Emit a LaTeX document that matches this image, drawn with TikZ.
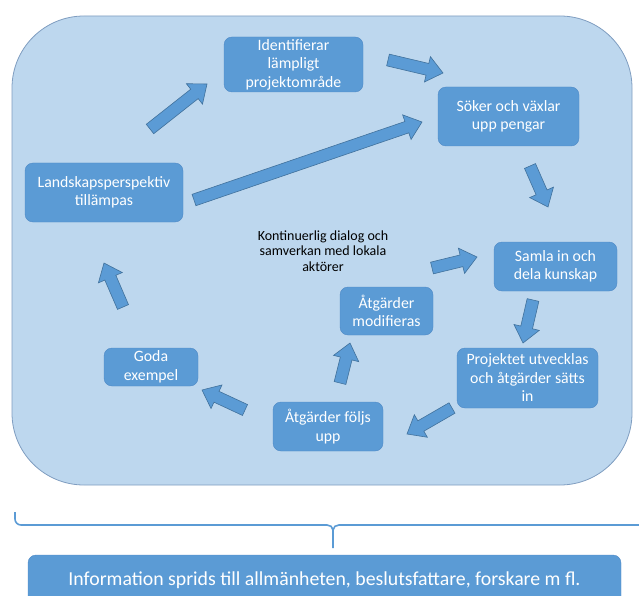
\documentclass[tikz,border=0pt]{standalone}
\usepackage{fontspec}
\setmainfont{Carlito}
\usepackage{tikz}
\usetikzlibrary{calc, positioning}
\definecolor{panelfill}{HTML}{BDD7EE}
\definecolor{paneledge}{HTML}{7F9DC0}
\definecolor{boxfill}{HTML}{5B9BD5}
\definecolor{boxedge}{HTML}{4E89C6}
\definecolor{arrowedge}{HTML}{41719C}
\tikzset{
    stagebox/.style={rectangle, rounded corners=8pt, draw=boxedge, fill=boxfill, text=white, align=center, inner sep=0pt, font=\fontsize{15.8}{18.5}\selectfont},
    flowarrow/.style={fill=boxfill, draw=arrowedge, line width=0.6pt, line join=miter},
    panel/.style={draw=paneledge, fill=panelfill, line width=0.8pt, rounded corners=72pt},
    bracketline/.style={draw=boxfill, line width=1.6pt},
}
% fat block arrow from #1 to #2
\newcommand{\fatarrow}[2]{%
    \coordinate (fah) at ($(#2)!16pt!(#1)$);
    \filldraw[flowarrow] ($(#1)!6pt!90:(#2)$) -- ($(fah)!6pt!90:(#2)$) -- ($(fah)!13pt!90:(#2)$) -- (#2)
        -- ($(fah)!13pt!-90:(#2)$) -- ($(fah)!6pt!-90:(#2)$) -- ($(#1)!6pt!-90:(#2)$) -- cycle;
}

\begin{document}
\begin{tikzpicture}[x=1pt, y=-1pt]
    \useasboundingbox (0,0) rectangle (639,596);

    % the big panel
    \draw[panel] (12,16) rectangle (632,485);

    % stages
    \node[stagebox, minimum width=139pt, minimum height=55pt] (ident) at (293.5,64.5) {Identifierar\\lämpligt\\projektområde};
    \node[stagebox, minimum width=141pt, minimum height=59pt] (soker) at (508.5,116.5) {Söker och växlar\\upp pengar};
    \node[stagebox, minimum width=158pt, minimum height=59pt] (land) at (104,192.5) {Landskapsperspektiv\\tillämpas};
    \node[stagebox, minimum width=123pt, minimum height=49pt] (samla) at (555.5,266.5) {Samla in och\\dela kunskap};
    \node[stagebox, minimum width=93pt, minimum height=48pt] (modif) at (386.5,311) {Åtgärder\\modifieras};
    \node[stagebox, minimum width=94pt, minimum height=38pt] (goda) at (151,367) {Goda\\exempel};
    \node[stagebox, minimum width=141pt, minimum height=60pt] (proj) at (527.5,378) {Projektet utvecklas\\och åtgärder sätts\\in};
    \node[stagebox, minimum width=110pt, minimum height=49pt] (folj) at (328,426.5) {Åtgärder följs\\upp};

    \node[align=center, font=\fontsize{14}{15.5}\selectfont] (dialog) at (323,251) {Kontinuerlig dialog och\\samverkan med lokala\\aktörer};

    % block arrows
    \foreach \i/\sx/\sy/\ex/\ey in {1/150/129/207/84, 2/388/60/443/73, 3/194/200/422/122,
            4/530/166/548/207, 5/432/268/477/257, 6/533/300/523/343, 7/452/408/407/434,
            8/245/410/202/390, 9/340/383/350/343, 10/123/307/104/263} {
        \coordinate (s\i) at (\sx,\sy);
        \coordinate (e\i) at (\ex,\ey);
        \fatarrow{s\i}{e\i}
    }

    % bracket under the panel
    \draw[bracketline] (15,512) -- (15,519) to[out=-90, in=180] (21,525) -- (327,525) to[out=0, in=90] (333,530) -- (333,548);
    \draw[bracketline] (333,530) to[out=90, in=180] (339,525) -- (645,525);

    \node[stagebox, minimum width=593pt, minimum height=50pt, font=\fontsize{19.8}{22}\selectfont] (info) at (324.5,580)
        {Information sprids till allmänheten, beslutsfattare, forskare m fl.};
\end{tikzpicture}
\end{document}
